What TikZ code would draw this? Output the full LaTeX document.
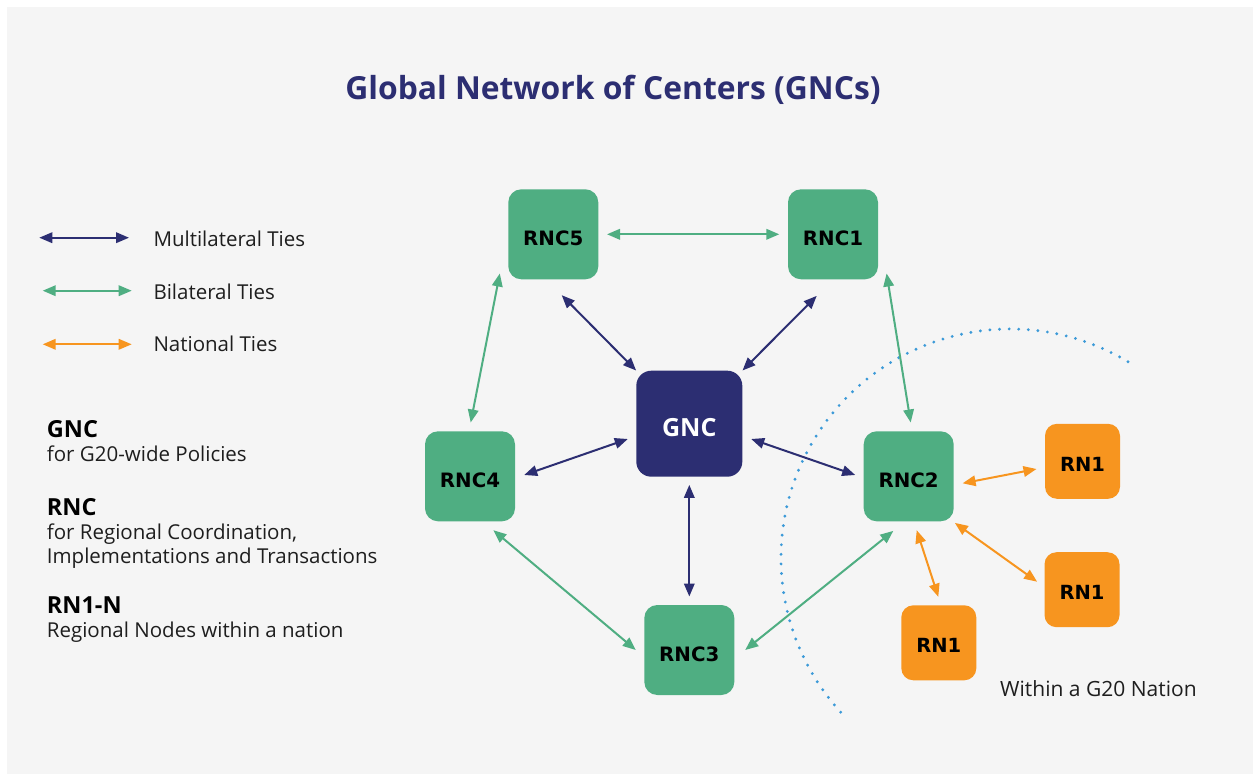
\documentclass[tikz,border=0pt]{standalone}
\usepackage{fontspec}
\setmainfont{Open Sans}
\newfontfamily\lblfont{DejaVu Sans}
\usetikzlibrary{arrows.meta,calc}
\definecolor{navy}{HTML}{2C2E72}
\definecolor{grn}{HTML}{4FAE82}
\definecolor{org}{HTML}{F7951F}
\definecolor{dotblue}{HTML}{3C9AD8}
\definecolor{bgc}{HTML}{F5F5F5}
\definecolor{ink}{HTML}{1E1E1E}
\tikzset{
  rncbox/.style={fill=grn, rounded corners=13pt, minimum size=90pt, inner sep=0pt,
    text height=22.4pt, text depth=0pt,
    font=\lblfont\bfseries\fontsize{19.8}{21}\selectfont, text=black},
  gncbox/.style={fill=navy, rounded corners=15pt, minimum size=106pt, inner sep=0pt,
    text height=25.8pt, text depth=0pt,
    font=\bfseries\fontsize{25}{27}\selectfont, text=white},
  rnbox/.style={fill=org, rounded corners=12pt, minimum size=75pt, inner sep=0pt,
    text height=20.2pt, text depth=0pt,
    font=\lblfont\bfseries\fontsize{19.5}{21}\selectfont, text=black},
  tie/.style={line width=2pt, {Triangle[length=13pt,width=10.5pt]}-{Triangle[length=13pt,width=10.5pt]}},
  multi/.style={tie, draw=navy},
  bi/.style={tie, draw=grn},
  nat/.style={tie, draw=org},
  legtxt/.style={anchor=base west, inner sep=0pt, text=ink, font=\fontsize{20.5}{24}\selectfont},
  legbold/.style={anchor=base west, inner sep=0pt, text=black, font=\bfseries\fontsize{23.5}{26}\selectfont},
  dotarc/.style={draw=dotblue, line width=3.2pt, line cap=round, dash pattern=on 0pt off 9.6pt}
}
\begin{document}
\begin{tikzpicture}[x=1pt,y=-1pt]
\useasboundingbox (0,0) rectangle (1253,781);
\fill[white] (0,0) rectangle (1253,781);
\fill[bgc] (7,7) rectangle (1253,774);

% title
\node[anchor=base, inner sep=0pt, text=navy, font=\bfseries\fontsize{31.8}{38}\selectfont] (title) at (613,100) {Global Network of Centers (GNCs)};

% legend arrows
\coordinate (lm1) at (39.3,237.7); \coordinate (lm2) at (129,237.7);
\coordinate (lb1) at (42.7,290.7); \coordinate (lb2) at (131.7,290.7);
\coordinate (ln1) at (42.7,344.3); \coordinate (ln2) at (131.7,344.3);
\draw[multi] (lm1) -- (lm2);
\draw[bi] (lb1) -- (lb2);
\draw[nat] (ln1) -- (ln2);
\node[legtxt] (tm) at (153.3,246) {Multilateral Ties};
\node[legtxt] (tb) at (153.3,299.3) {Bilateral Ties};
\node[legtxt] (tn) at (153.3,351.7) {National Ties};

% left descriptions
\node[legbold] (dg) at (46.7,437.3) {GNC};
\node[legtxt] (dg1) at (46.7,461.7) {for G20-wide Policies};
\node[legbold] (dr) at (46.7,515) {RNC};
\node[legtxt] (dr1) at (46.7,539.3) {for Regional Coordination,};
\node[legtxt] (dr2) at (46.7,563.3) {Implementations and Transactions};
\node[legbold] (dn) at (46.7,613.3) {RN1-N};
\node[legtxt] (dn1) at (46.7,637.3) {Regional Nodes within a nation};

% dotted boundary
\draw[dotarc] (1010,558) ++(59:229pt) arc[start angle=59, end angle=223, radius=229pt];
\node[legtxt, font=\fontsize{21}{24}\selectfont] (within) at (1000,696) {Within a G20 Nation};

% nodes
\node[rncbox] (RNC5) at (553.3,234.3) {RNC5};
\node[rncbox] (RNC1) at (833,234.3) {RNC1};
\node[gncbox] (GNC) at (689.3,423.7) {GNC};
\node[rncbox] (RNC4) at (470,476.3) {RNC4};
\node[rncbox] (RNC2) at (908.7,476.3) {RNC2};
\node[rncbox] (RNC3) at (689.3,650) {RNC3};
\node[rnbox] (RNa) at (1082.5,461.3) {RN1};
\node[rnbox] (RNb) at (1082,589.7) {RN1};
\node[rnbox] (RNc) at (938.8,642.8) {RN1};

% connectors
\draw[bi, shorten <=8.5pt, shorten >=8.5pt] (RNC5) -- (RNC1);
\draw[multi] ($(RNC5.south)+(8.4,15.7)$) -- (GNC.north west);
\draw[multi] ($(RNC1.south)+(-16.3,16.4)$) -- (GNC.north east);
\draw[bi] ($(RNC5.south west)+(-8.3,-6)$) -- ($(RNC4.north)+(0.7,-8.6)$);
\draw[multi] ($(RNC4.east)+(9,-1.3)$) -- ($(GNC.west)+(-8.3,15.3)$);
\draw[multi] ($(GNC.east)+(8.7,15.3)$) -- ($(RNC2.west)+(-8.3,-1.3)$);
\draw[multi, shorten <=8pt, shorten >=8.3pt] (GNC) -- (RNC3);
\draw[bi] ($(RNC4.south)+(23.3,8.7)$) -- ($(RNC3.west)+(-8.3,0)$);
\draw[bi] ($(RNC3.east)+(10.7,0)$) -- ($(RNC2.south)+(-15.4,9.4)$);
\draw[bi] ($(RNC1.south east)+(8.4,-6)$) -- ($(RNC2.north)+(2,-8.6)$);
\draw[nat] ($(RNC2.east)+(8.7,7)$) -- ($(RNa.west)+(-8.3,7.7)$);
\draw[nat] ($(RNC2.south east)+(1,1.4)$) -- ($(RNb.west)+(-7.2,-8)$);
\draw[nat] ($(RNC2.south)+(8,8.7)$) -- ($(RNc.north)+(-0.5,-8.3)$);
\end{tikzpicture}
\end{document}
